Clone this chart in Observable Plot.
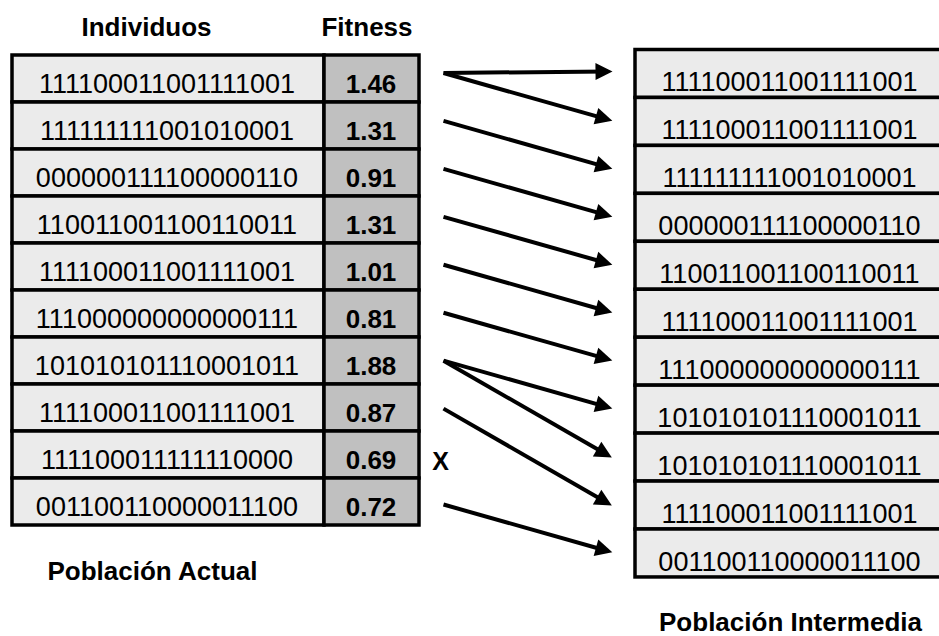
<!DOCTYPE html>
<html>
<head>
<meta charset="utf-8">
<script src="https://cdn.jsdelivr.net/npm/d3@7"></script>
<script src="https://cdn.jsdelivr.net/npm/@observablehq/plot@0.6"></script>
<style>
  html, body { margin: 0; padding: 0; background: #fff; overflow: hidden; }
  svg { display: block; }
</style>
</head>
<body>
<div id="chart"></div>
<script>
// ---------- data ----------
const headers = ["Individuos", "Fitness"];
const individuos = [
  "111100011001111001",
  "111111111001010001",
  "000000111100000110",
  "110011001100110011",
  "111100011001111001",
  "111000000000000111",
  "101010101110001011",
  "111100011001111001",
  "111100011111110000",
  "001100110000011100"
];
const fitness = [1.46, 1.31, 0.91, 1.31, 1.01, 0.81, 1.88, 0.87, 0.69, 0.72];
const intermedia = [
  "111100011001111001",
  "111100011001111001",
  "111111111001010001",
  "000000111100000110",
  "110011001100110011",
  "111100011001111001",
  "111000000000000111",
  "101010101110001011",
  "101010101110001011",
  "111100011001111001",
  "001100110000011100"
];
// arrow k goes from current-population row arrowSource[k] to intermediate row arrowTarget[k]
const arrowSource = [0, 0, 1, 2, 3, 4, 5, 6, 6, 7, 9];
const arrowTarget = [0, 1, 2, 3, 4, 5, 6, 7, 8, 9, 10];
const eliminated = [8];
const eliminatedLabel = "X";
const captions = ["Población Actual", "Población Intermedia"];

// ---------- layout ----------
const W = 939, H = 636;
const L = {x0: 12, xd: 324, x1: 419, top: 55, rowH: 47, base: 37};
const R = {x0: 635, x1: 946, top: 49.5, rowH: 47.95, base: 41};
const A = {xs: 443, xe: 607};
const font = "Liberation Sans, Arial, Helvetica, sans-serif";
const strSize = 27;

const leftRows = individuos.map((s, i) => ({s, f: fitness[i], i}));
const rightRows = intermedia.map((s, k) => ({s, k}));
const arrows = arrowSource.map((src, k) => ({src, dst: arrowTarget[k]}));
const rowMidR = k => R.top + R.rowH * (k + 0.5) - 1;

const fmt = d3.format(".2f");

const plot = Plot.plot({
  width: W,
  height: H,
  margin: 0,
  x: {domain: [0, W], range: [0, W], axis: null},
  y: {domain: [0, H], range: [0, H], axis: null},
  marks: [
    // current population cells
    Plot.rect(leftRows, {
      x1: L.x0, x2: L.xd,
      y1: d => L.top + d.i * L.rowH, y2: d => L.top + (d.i + 1) * L.rowH,
      fill: "#ebebeb", stroke: "#000", strokeWidth: 3.5
    }),
    Plot.rect(leftRows, {
      x1: L.xd, x2: L.x1,
      y1: d => L.top + d.i * L.rowH, y2: d => L.top + (d.i + 1) * L.rowH,
      fill: "#c0c0c0", stroke: "#000", strokeWidth: 3.5
    }),
    Plot.text(leftRows, {
      x: (L.x0 + L.xd) / 2 - 1.5, y: d => L.top + d.i * L.rowH + L.base,
      text: "s", lineAnchor: "bottom", textAnchor: "middle",
      fontSize: strSize, fontFamily: font, fill: "#000"
    }),
    Plot.text(leftRows, {
      x: (L.xd + L.x1) / 2 - 1, y: d => L.top + d.i * L.rowH + L.base,
      text: d => fmt(d.f), lineAnchor: "bottom", textAnchor: "middle",
      fontSize: 26, fontWeight: "bold", fontFamily: font, fill: "#000"
    }),
    // intermediate population cells
    Plot.rect(rightRows, {
      x1: R.x0, x2: R.x1,
      y1: d => R.top + d.k * R.rowH, y2: d => R.top + (d.k + 1) * R.rowH,
      fill: "#ebebeb", stroke: "#000", strokeWidth: 3.5
    }),
    Plot.text(rightRows, {
      x: (R.x0 + R.x1) / 2 - 1.5, y: d => R.top + d.k * R.rowH + R.base,
      text: "s", lineAnchor: "bottom", textAnchor: "middle",
      fontSize: strSize, fontFamily: font, fill: "#000"
    }),
    // selection arrows
    Plot.link(arrows, {
      x1: A.xs, x2: A.xe,
      y1: d => rowMidR(d.src), y2: d => rowMidR(d.dst) - 1.5,
      stroke: "#000", strokeWidth: 4, strokeLinecap: "butt"
    }),
    // eliminated individual
    Plot.text(eliminated, {
      x: 440, y: d => L.top + d * L.rowH + L.base + 1,
      text: () => eliminatedLabel, lineAnchor: "bottom", textAnchor: "middle",
      fontSize: 25, fontWeight: "bold", fontFamily: font, fill: "#000"
    }),
    // headers
    Plot.text(headers, {
      x: (d, i) => i === 0 ? (L.x0 + L.xd) / 2 - 22 : (L.xd + L.x1) / 2 - 5,
      y: 35, text: d => d, lineAnchor: "bottom", textAnchor: "middle",
      fontSize: 26, fontWeight: "bold", fontFamily: font, fill: "#000"
    }),
    // captions
    Plot.text(captions, {
      x: (d, i) => i === 0 ? 152 : 790,
      y: (d, i) => i === 0 ? 579 : 630,
      text: d => d, lineAnchor: "bottom", textAnchor: "middle",
      fontSize: 26, fontWeight: "bold", fontFamily: font, fill: "#000"
    })
  ]
});

// filled triangular arrowheads on the links
const svg = d3.select(plot);
svg.style("overflow", "hidden");
const defs = svg.insert("defs", ":first-child");
defs.append("marker")
  .attr("id", "ah")
  .attr("markerUnits", "userSpaceOnUse")
  .attr("viewBox", "-20 -20 40 40")
  .attr("markerWidth", 40)
  .attr("markerHeight", 40)
  .attr("refX", 0).attr("refY", 0)
  .attr("orient", "auto")
  .append("path")
  .attr("d", "M-12,-8.5L5,0L-12,8.5Z")
  .attr("fill", "#000")
  .attr("stroke", "none");
svg.selectAll('g[aria-label="link"] path').attr("marker-end", "url(#ah)");

document.getElementById("chart").appendChild(plot);
</script>
</body>
</html>
